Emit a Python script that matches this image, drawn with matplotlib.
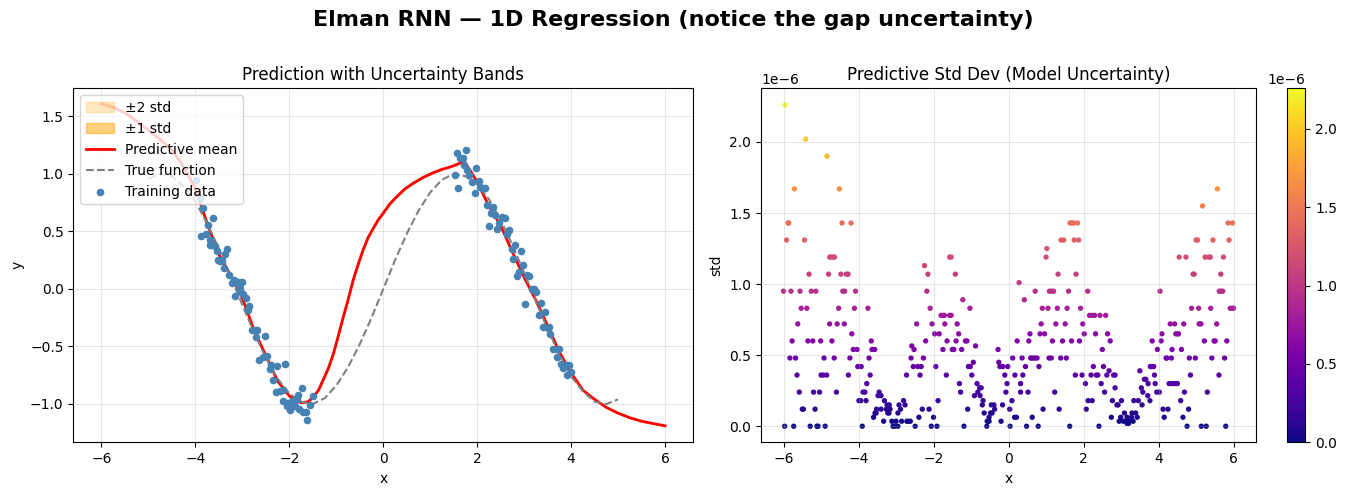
import numpy as np
import matplotlib
matplotlib.use("Agg")
import matplotlib.pyplot as plt

# predictive mean
mean_x = [-6.0, -5.75, -5.5, -5.25, -5.0, -4.75, -4.5, -4.25, -4.0, -3.75, -3.5, -3.25, -3.0,
          -2.75, -2.5, -2.25, -2.0, -1.75, -1.6, -1.49, -1.38, -1.28, -1.17, -1.06, -0.96,
          -0.85, -0.74, -0.64, -0.53, -0.43, -0.32, -0.21, -0.11, 0.0, 0.14, 0.28, 0.46,
          0.64, 0.85, 1.06, 1.25, 1.42, 1.55, 1.72, 1.85, 2.0, 2.25, 2.5, 2.75, 3.0,
          3.25, 3.5, 3.75, 4.0, 4.25, 4.5, 4.75, 5.0, 5.25, 5.5, 5.75, 6.0]
mean_y = [1.61, 1.58, 1.53, 1.46, 1.38, 1.30, 1.21, 1.06, 0.87, 0.57, 0.30, 0.12, -0.08,
          -0.36, -0.58, -0.80, -0.93, -0.99, -0.98, -0.94, -0.88, -0.79, -0.69, -0.56, -0.41,
          -0.24, -0.08, 0.08, 0.22, 0.34, 0.45, 0.53, 0.60, 0.66, 0.74, 0.80, 0.87,
          0.92, 0.97, 1.01, 1.04, 1.06, 1.08, 1.11, 1.03, 0.93, 0.72, 0.55, 0.32, 0.10,
          -0.10, -0.32, -0.55, -0.73, -0.88, -0.96, -1.03, -1.08, -1.12, -1.15, -1.17, -1.19]

# true function (dashed)
true_x = [-5.0, -4.75, -4.5, -4.25, -4.0, -3.75, -3.5, -3.25, -3.0, -2.75, -2.5,
          -2.25, -2.0, -1.75, -1.5, -1.25, -1.0, -0.75, -0.5, -0.25, 0.0, 0.25,
          0.5, 0.75, 1.0, 1.25, 1.5, 1.75, 2.0, 2.25, 2.5, 2.75, 3.0, 3.25, 3.5,
          3.75, 4.0, 4.25, 4.5, 4.75, 5.0]
true_y = [0.96, 1.00, 0.98, 0.89, 0.76, 0.57, 0.35, 0.11, -0.14, -0.38, -0.60,
          -0.78, -0.91, -0.98, -1.00, -0.95, -0.84, -0.68, -0.48, -0.25, 0.0, 0.25,
          0.48, 0.68, 0.84, 0.95, 1.00, 0.98, 0.91, 0.78, 0.60, 0.38, 0.14, -0.11, -0.35,
          -0.57, -0.76, -0.89, -0.98, -1.00, -0.96]

# training data
train_x = [-3.99, -3.91, -3.83, -3.62, -3.74, -3.89, -3.78, -3.69, -3.70, -3.65, -3.58,
           -3.55, -3.32, -3.51, -3.48, -3.40, -3.37, -3.44, -3.28, -3.23, -3.18, -3.12,
           -3.09, -3.01, -3.06, -3.05, -2.99, -3.15, -2.93, -2.89, -2.86, -2.80, -2.73,
           -2.68, -2.71, -2.51, -2.64, -2.57, -2.47, -2.40, -2.42, -2.26, -2.34, -2.09,
           -2.29, -2.20, -2.14, -2.13, -2.06, -1.99, -1.91, -1.84, -1.81, -1.74, -1.95,
           -1.88, -1.79, -1.70, -1.65, -1.62, -1.55, -1.49, -2.04, -1.99,
           1.56, 1.63, 1.69, 1.76, 1.72, 1.79, 1.52, 1.60, 1.83, 1.97, 1.89, 2.03, 1.95,
           2.06, 2.11, 2.17, 2.20, 2.34, 2.30, 2.38, 2.26, 2.43, 2.47, 2.52, 2.59, 2.64,
           2.68, 2.73, 2.80, 2.77, 2.93, 2.98, 2.89, 2.85, 3.05, 3.10, 3.16, 3.21, 3.26,
           3.02, 3.35, 3.32, 3.44, 3.40, 3.50, 3.53, 3.56, 3.62, 3.69, 3.74, 3.70, 3.79,
           3.83, 3.89, 3.96, 3.91, 4.00]
train_y = [0.95, 0.79, 0.70, 0.62, 0.56, 0.46, 0.48, 0.43, 0.38, 0.38, 0.37,
           0.33, 0.35, 0.25, 0.24, 0.18, 0.30, 0.25, 0.12, 0.05, 0.08, 0.05,
           0.06, 0.06, 0.01, -0.02, -0.04, -0.06, -0.08, -0.18, -0.15, -0.36, -0.36,
           -0.36, -0.42, -0.41, -0.62, -0.59, -0.58, -0.66, -0.70, -0.67, -0.79, -0.65,
           -0.90, -0.89, -0.88, -0.97, -0.99, -1.02, -0.99, -0.96, -0.92, -0.86, -0.97,
           -1.02, -1.04, -1.07, -1.07, -1.14, -1.01, -0.93, -1.02, -1.05,
           1.18, 1.14, 1.14, 1.21, 1.08, 1.03, 0.99, 0.88, 0.99, 1.05, 0.93, 0.94, 0.83,
           0.89, 0.88, 0.88, 0.73, 0.71, 0.66, 0.64, 0.55, 0.52, 0.57, 0.63, 0.62, 0.48,
           0.51, 0.35, 0.38, 0.26, 0.33, 0.21, 0.15, 0.11, 0.12, 0.11, 0.00, 0.00, -0.03,
           -0.13, -0.12, -0.23, -0.20, -0.33, -0.34, -0.33, -0.39, -0.52, -0.52, -0.52,
           -0.59, -0.65, -0.69, -0.66, -0.66, -0.75, -0.72]

# predictive std (units of 1e-6), grouped by value level
std_levels = [2.26, 2.02, 1.90, 1.67, 1.55, 1.43, 1.31, 1.25, 1.19, 1.13, 1.07, 1.01,
              0.95, 0.89, 0.83, 0.78, 0.72, 0.65, 0.60, 0.565, 0.54, 0.48, 0.45,
              0.42, 0.39, 0.36, 0.33, 0.30, 0.27, 0.24, 0.215, 0.18, 0.15, 0.12,
              0.093, 0.063, 0.035, 0.02, 0.0]
std_rows = [
    [-5.96],
    [-5.41],
    [-4.84],
    [-5.71, -4.51, 5.57],
    [5.17],
    [-5.88, -5.86, -4.44, -4.20, 1.64, 1.69, 1.73, 1.84, 5.85, 5.97],
    [-5.92, -5.44, 1.40, 1.47, 1.75, 1.87, 5.00, 5.04, 5.45, 5.88],
    [1.02],
    [-4.77, -4.73, -4.68, -4.64, -1.57, -1.53, 1.00, 4.55, 4.73, 5.24, 5.33, 5.38, 5.73],
    [-2.24],
    [-5.32, -4.80, -4.47, -4.33, -4.28, -2.15, -1.42, 1.32, 1.80, 4.92, 4.95, 5.66],
    [0.28],
    [-6.0, -5.80, -5.56, -5.26, -5.14, -4.42, -4.37, -4.08, -2.18,
     0.71, 1.09, 1.14, 1.20, 1.60, 2.11, 4.04, 5.62, 5.66, 5.71],
    [-1.22, 0.42],
    [-5.53, -5.38, -4.53, -4.11, -3.75, -2.09, -1.03,
     0.90, 1.05, 1.30, 1.56, 1.92, 4.88, 5.07, 5.39, 5.91, 5.97, 6.0],
    [-1.80, -1.75, -1.71, -1.57, -1.53, 2.16, 2.23, 2.30, 2.44, 2.59],
    [-5.62, -4.77, -4.57, -4.38, -2.45, -2.04, -1.70, -1.37,
     0.87, 1.26, 1.51, 1.98, 4.31, 4.43, 4.67, 5.08, 5.13, 5.55],
    [-4.18, -1.97, -1.85, -1.33, 0.57, 0.84, 0.96, 2.02, 2.32, 2.64, 4.09, 4.46, 4.51, 4.53],
    [-5.77, -5.35, -5.22, -5.01, -4.71, -3.66, -2.21, -1.64, -1.40, -1.15, -1.11, 0.23,
     0.54, 1.17, 1.44, 1.68, 1.89, 2.71, 3.83, 4.07, 5.22, 5.48, 5.51, 5.82],
    [-2.58, -0.88],
    [-4.14, -4.04, -3.64, -3.57, -2.52, -1.75, -1.50, -1.46, -1.25, -0.28,
     2.50, 3.97, 4.36, 4.61],
    [-5.83, -5.68, -4.92, -4.65, -4.23, -3.72, -2.60, -2.27, 0.11,
     0.36, 0.59, 0.62, 0.67, 0.71, 0.76, 1.08, 1.14, 1.39, 1.54, 4.20, 4.22, 4.34,
     4.82, 4.98, 5.42, 5.76],
    [-0.94, -0.26],
    [-4.02, -3.93, -2.54, -2.42, -2.33, -1.94, -1.07, -1.02, -0.23, -0.15, -0.02,
     0.45, 0.81, 2.26, 2.53, 3.78, 3.82, 3.87],
    [2.68, 3.50],
    [-5.64, -5.00, -4.94, -4.85, -4.27, -3.69, -2.72, -2.36, -1.66, -0.98, -0.10, 0.17,
     0.38, 1.78, 1.96, 2.20, 2.34, 2.38, 2.62, 2.80, 2.84, 3.89, 4.85, 5.61],
    [3.62, 3.66],
    [-3.78, -1.31, -0.84, -0.04, 0.32, 2.05, 2.47, 3.72, 3.91, 4.28, 4.36, 4.43, 4.50],
    [-0.77, -0.73, 2.84, 3.54],
    [-5.58, -5.20, -5.04, -4.59, -3.88, -3.83, -3.45, -1.28, -0.82, -0.07, 0.32,
     0.52, 1.23, 2.56, 3.58, 3.95, 4.02, 4.69, 5.30],
    [-3.48, -3.40, -0.91, -0.76, 3.71],
    [-3.99, -3.94, -3.80, -3.31, -2.80, -1.88, -0.68, 0.09,
     2.12, 2.23, 2.77, 3.01, 3.34, 3.46, 3.77, 4.59],
    [-3.24, -3.18, -2.92, -2.76, -0.70, -0.46, -0.39, -0.16, 2.89, 2.92, 3.56],
    [-5.50, -5.47, -5.16, -3.52, -3.40, -3.26, -3.16, -2.88, -2.30, -2.12, -1.09,
     -0.37, 0.03, 0.92, 1.35, 2.07, 4.12, 4.25, 4.80],
    [-3.56, -3.53, -3.22, -3.19, -2.95, -0.65, -0.48, -0.44, 3.09, 3.29, 3.39],
    [-3.60, -2.39, -2.00, -0.52, 0.16, 0.21, 0.63, 2.74, 2.99, 3.16, 3.28, 3.43, 4.15, 4.65],
    [-3.33, -3.11, -3.00, -2.85, -2.71, -2.67, -2.62, -0.57, -0.52, -0.20,
     2.95, 3.06, 3.14, 3.19, 3.22, 3.32],
    [3.16, 3.20],
    [-5.97, -5.73, -5.29, -5.11, -5.08, -4.89, -3.90, -3.08, -3.04, -2.95, -2.49,
     -2.06, -1.91, -1.19, -0.58, 0.04, 0.48, 0.79, 1.63, 2.41, 4.76, 5.14, 5.27, 5.79],
]

std_x = np.array([x for row in std_rows for x in row])
std_y = np.array([lv for lv, row in zip(std_levels, std_rows) for _ in row]) * 1e-6

mx = np.array(mean_x)
my = np.array(mean_y)
order = np.argsort(std_x)
s_on_mean = np.interp(mx, std_x[order], std_y[order])

fig = plt.figure(figsize=(13.46, 4.95), dpi=100)
ax1 = fig.add_axes([0.05446, 0.1065, 0.4606, 0.7152])
ax2 = fig.add_axes([0.5654, 0.1065, 0.3678, 0.7152])
cax = fig.add_axes([0.9564, 0.1065, 0.01337, 0.7152])

ax1.fill_between(mx, my - 2 * s_on_mean, my + 2 * s_on_mean, color="orange", alpha=0.25, label="±2 std")
ax1.fill_between(mx, my - s_on_mean, my + s_on_mean, color="orange", alpha=0.5, label="±1 std")
ax1.plot(mx, my, color="red", lw=2, label="Predictive mean")
ax1.plot(true_x, true_y, color="gray", ls="--", lw=1.5, label="True function")
ax1.scatter(train_x, train_y, color="steelblue", s=20, zorder=3, label="Training data")
ax1.set_xlim(-6.6, 6.6)
ax1.set_ylim(-1.333, 1.745)
ax1.set_xlabel("x")
ax1.set_ylabel("y")
ax1.set_title("Prediction with Uncertainty Bands")
ax1.grid(True, alpha=0.3)
ax1.legend(loc="upper left")

sc = ax2.scatter(std_x, std_y, c=std_y, cmap="plasma", s=8, vmin=0, vmax=std_y.max())
ax2.set_xlim(-6.6, 6.6)
ax2.set_ylim(-0.113e-6, 2.378e-6)
ax2.set_xlabel("x")
ax2.set_ylabel("std")
ax2.set_title("Predictive Std Dev (Model Uncertainty)")
ax2.grid(True, alpha=0.3)
fig.colorbar(sc, cax=cax)

fig.suptitle("Elman RNN — 1D Regression (notice the gap uncertainty)", fontsize=16, fontweight="bold", y=0.98)

fig.savefig("out.png", dpi=100)
